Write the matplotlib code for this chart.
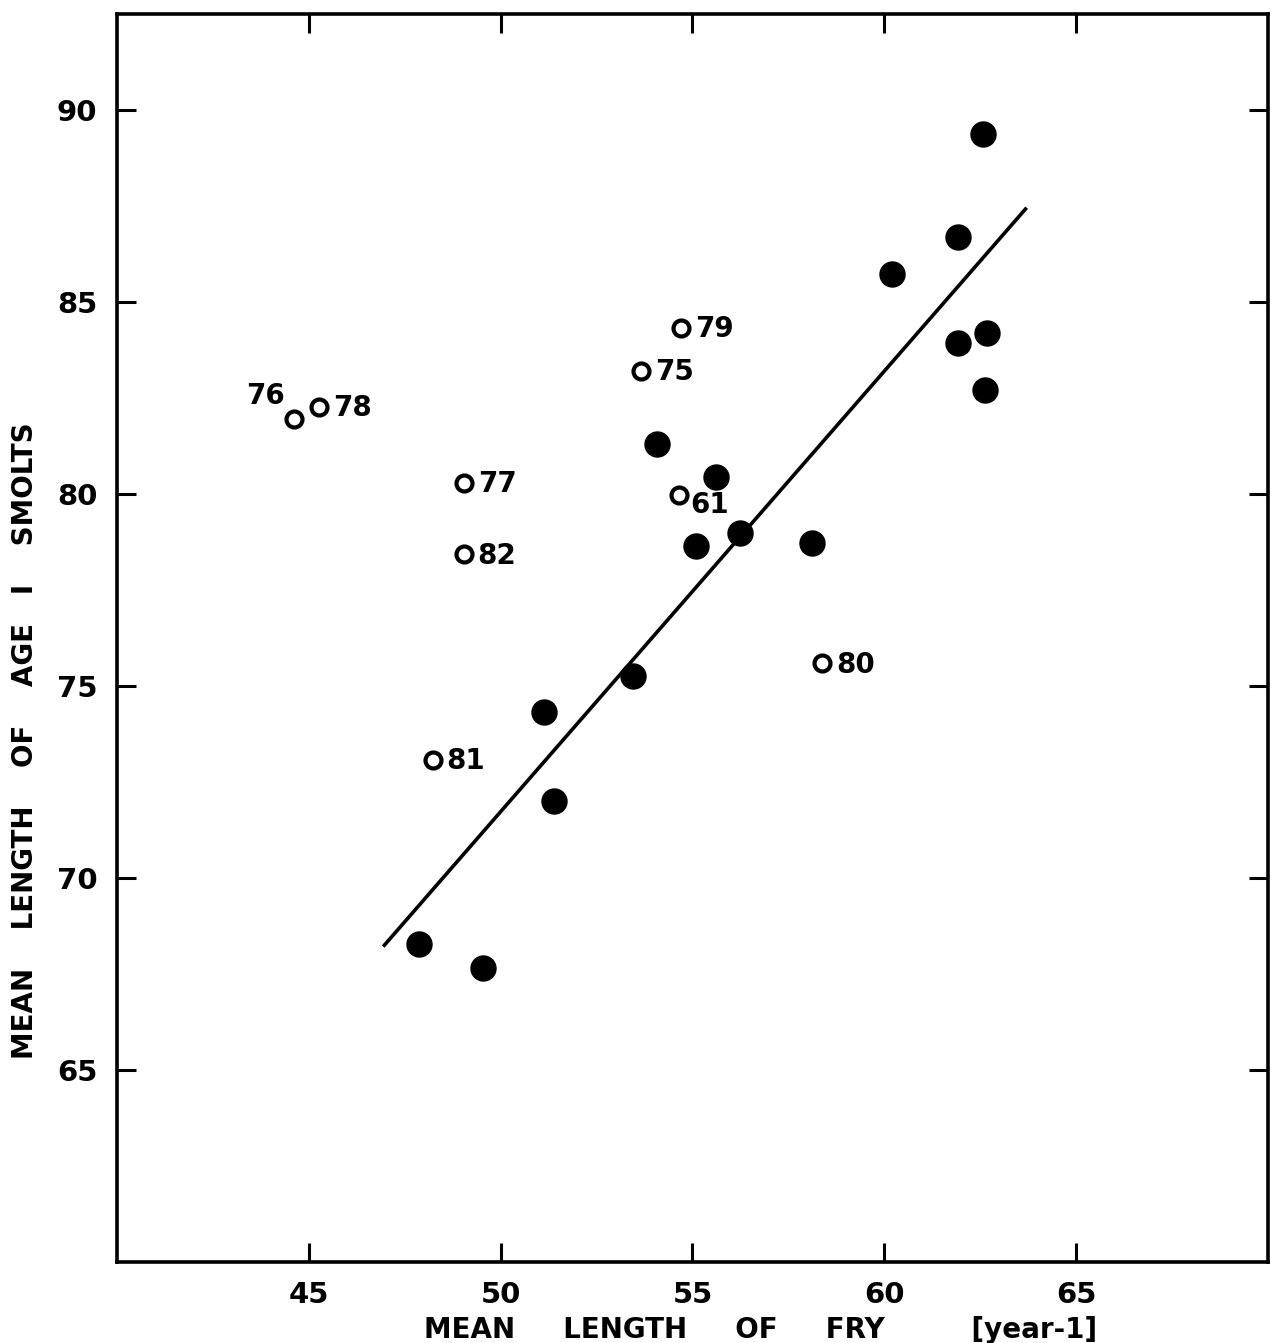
import matplotlib
matplotlib.use("Agg")
import matplotlib.pyplot as plt

# Filled points (unlabelled years)
fry_filled = [47.87, 49.55, 51.13, 51.39, 53.46, 54.08, 55.09, 55.61, 56.23, 58.12,
              60.19, 61.92, 62.57, 61.92, 62.67, 62.62]
smolt_filled = [68.28, 67.65, 74.33, 72.01, 75.25, 81.31, 78.64, 80.44, 78.98, 78.72,
                85.74, 86.68, 89.37, 83.94, 84.20, 82.72]

# Open points (labelled years)
open_labels = ["76", "78", "77", "82", "81", "75", "79", "61", "80"]
fry_open = [44.61, 45.26, 49.04, 49.04, 48.23, 53.67, 54.70, 54.65, 58.38]
smolt_open = [81.96, 82.27, 80.29, 78.43, 73.08, 83.21, 84.33, 79.97, 75.59]

# Regression line end points
line_x = [46.97, 63.68]
line_y = [68.25, 87.42]

x_ticks = [45, 50, 55, 60, 65]
y_ticks = [65, 70, 75, 80, 85, 90]

fig = plt.figure(figsize=(12.71, 13.43), dpi=100)
ax = fig.add_axes([0.092, 0.0603, 0.9056, 0.9293])

ax.plot(line_x, line_y, color="black", lw=2.6, zorder=2)
ax.plot(fry_filled, smolt_filled, "o", color="black", ms=18, zorder=3)
ax.plot(fry_open, smolt_open, "o", mfc="white", mec="black", ms=11.5, mew=3, zorder=4)

offsets = {"76": (-34, 16), "61": (8, -7)}
for lab, xv, yv in zip(open_labels, fry_open, smolt_open):
    dx, dy = offsets.get(lab, (10, -1))
    ax.annotate(lab, (xv, yv), xytext=(dx, dy), textcoords="offset points",
                ha="left", va="center", fontsize=20, fontweight="bold")

ax.set_xlim(40, 70)
ax.set_ylim(60, 92.5)
ax.set_xticks(x_ticks)
ax.set_yticks(y_ticks)
ax.tick_params(direction="in", length=14, width=2.2, top=True, right=True,
               labelsize=21, pad=14)
for t in ax.get_xticklabels() + ax.get_yticklabels():
    t.set_fontweight("bold")
for s in ax.spines.values():
    s.set_linewidth(2.6)

ax.set_xlabel("MEAN     LENGTH     OF     FRY         [year-1]", fontsize=20,
              fontweight="bold")
ax.set_ylabel("MEAN    LENGTH    OF    AGE   I    SMOLTS", fontsize=20,
              fontweight="bold")
ax.xaxis.set_label_coords(0.559, -0.043)
ax.yaxis.set_label_coords(-0.068, 0.418)

fig.savefig("out.png", dpi=100)
